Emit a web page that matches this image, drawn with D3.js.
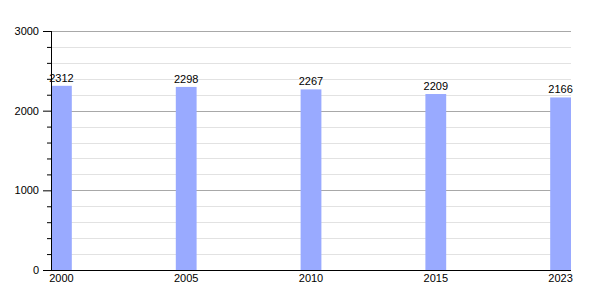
<!DOCTYPE html>
<html>
<head>
<meta charset="utf-8">
<script src="https://cdn.jsdelivr.net/npm/d3@7"></script>
<style>
  body { margin: 0; background: #fff; }
  svg { display: block; font-family: "Liberation Sans", Arial, sans-serif; }
</style>
</head>
<body>
<svg id="chart" width="600" height="300"></svg>
<script>
const years = ['2000', '2005', '2010', '2015', '2023'];
const values = [2312, 2298, 2267, 2209, 2166];
const yMajorTicks = [0, 1000, 2000, 3000];

const svg = d3.select('#chart');
const margin = { left: 51, right: 29, top: 31, bottom: 30 };
const width = 600 - margin.left - margin.right;
const height = 300 - margin.top - margin.bottom;

const g = svg.append('g').attr('transform', `translate(${margin.left},${margin.top})`);

const x = d3.scaleBand().domain(years).range([0, width]).paddingInner(0.8333).paddingOuter(0);
const y = d3.scaleLinear().domain([0, 3000]).range([height, 0]);

// Minor gridlines every 200
const minor = d3.range(200, 3001, 200).filter(v => v % 1000 !== 0);
g.append('g').selectAll('line').data(minor).join('line')
    .attr('x1', 0).attr('x2', width)
    .attr('y1', d => Math.round(y(d)) + 0.5).attr('y2', d => Math.round(y(d)) + 0.5)
    .attr('stroke', '#e2e2e2');

// Major gridlines
g.append('g').selectAll('line').data(yMajorTicks.filter(v => v > 0)).join('line')
    .attr('x1', 0).attr('x2', width)
    .attr('y1', d => Math.round(y(d)) + 0.5).attr('y2', d => Math.round(y(d)) + 0.5)
    .attr('stroke', '#a8a8a8');

// Bars
g.append('g').selectAll('rect').data(values).join('rect')
    .attr('x', (d, i) => x(years[i]))
    .attr('width', x.bandwidth())
    .attr('y', d => y(d))
    .attr('height', d => height - y(d))
    .attr('fill', '#99aaff');

// Value labels
g.append('g').selectAll('text').data(values).join('text')
    .attr('x', (d, i) => x(years[i]) + x.bandwidth() / 2)
    .attr('y', d => y(d) - 4)
    .attr('text-anchor', 'middle')
    .attr('font-size', 11)
    .attr('fill', '#000')
    .text(d => d);

// Y axis with minor ticks
const yAxis = g.append('g')
    .call(d3.axisLeft(y).tickValues(d3.range(0, 3001, 200)).tickSize(4)
        .tickFormat(d => (d % 1000 === 0 ? d : '')));
yAxis.select('.domain').attr('stroke', '#000').attr('d', `M0.5,0V${height}`);
yAxis.selectAll('.tick line').attr('stroke', '#000').attr('x2', -4);
yAxis.selectAll('.tick').filter(d => d % 1000 === 0).select('line').attr('x2', -8);
yAxis.selectAll('.tick text').attr('x', -12).attr('font-size', 11)
    .attr('font-family', '"Liberation Sans", Arial, sans-serif').attr('fill', '#000');

// X axis
const xAxis = g.append('g').attr('transform', `translate(0,${height})`)
    .call(d3.axisBottom(x).tickSize(0).tickPadding(4));
xAxis.select('.domain').attr('stroke', '#000').attr('d', `M0,0.5H${width}`);
xAxis.selectAll('.tick text').attr('font-size', 11)
    .attr('font-family', '"Liberation Sans", Arial, sans-serif').attr('fill', '#000');
</script>
</body>
</html>
